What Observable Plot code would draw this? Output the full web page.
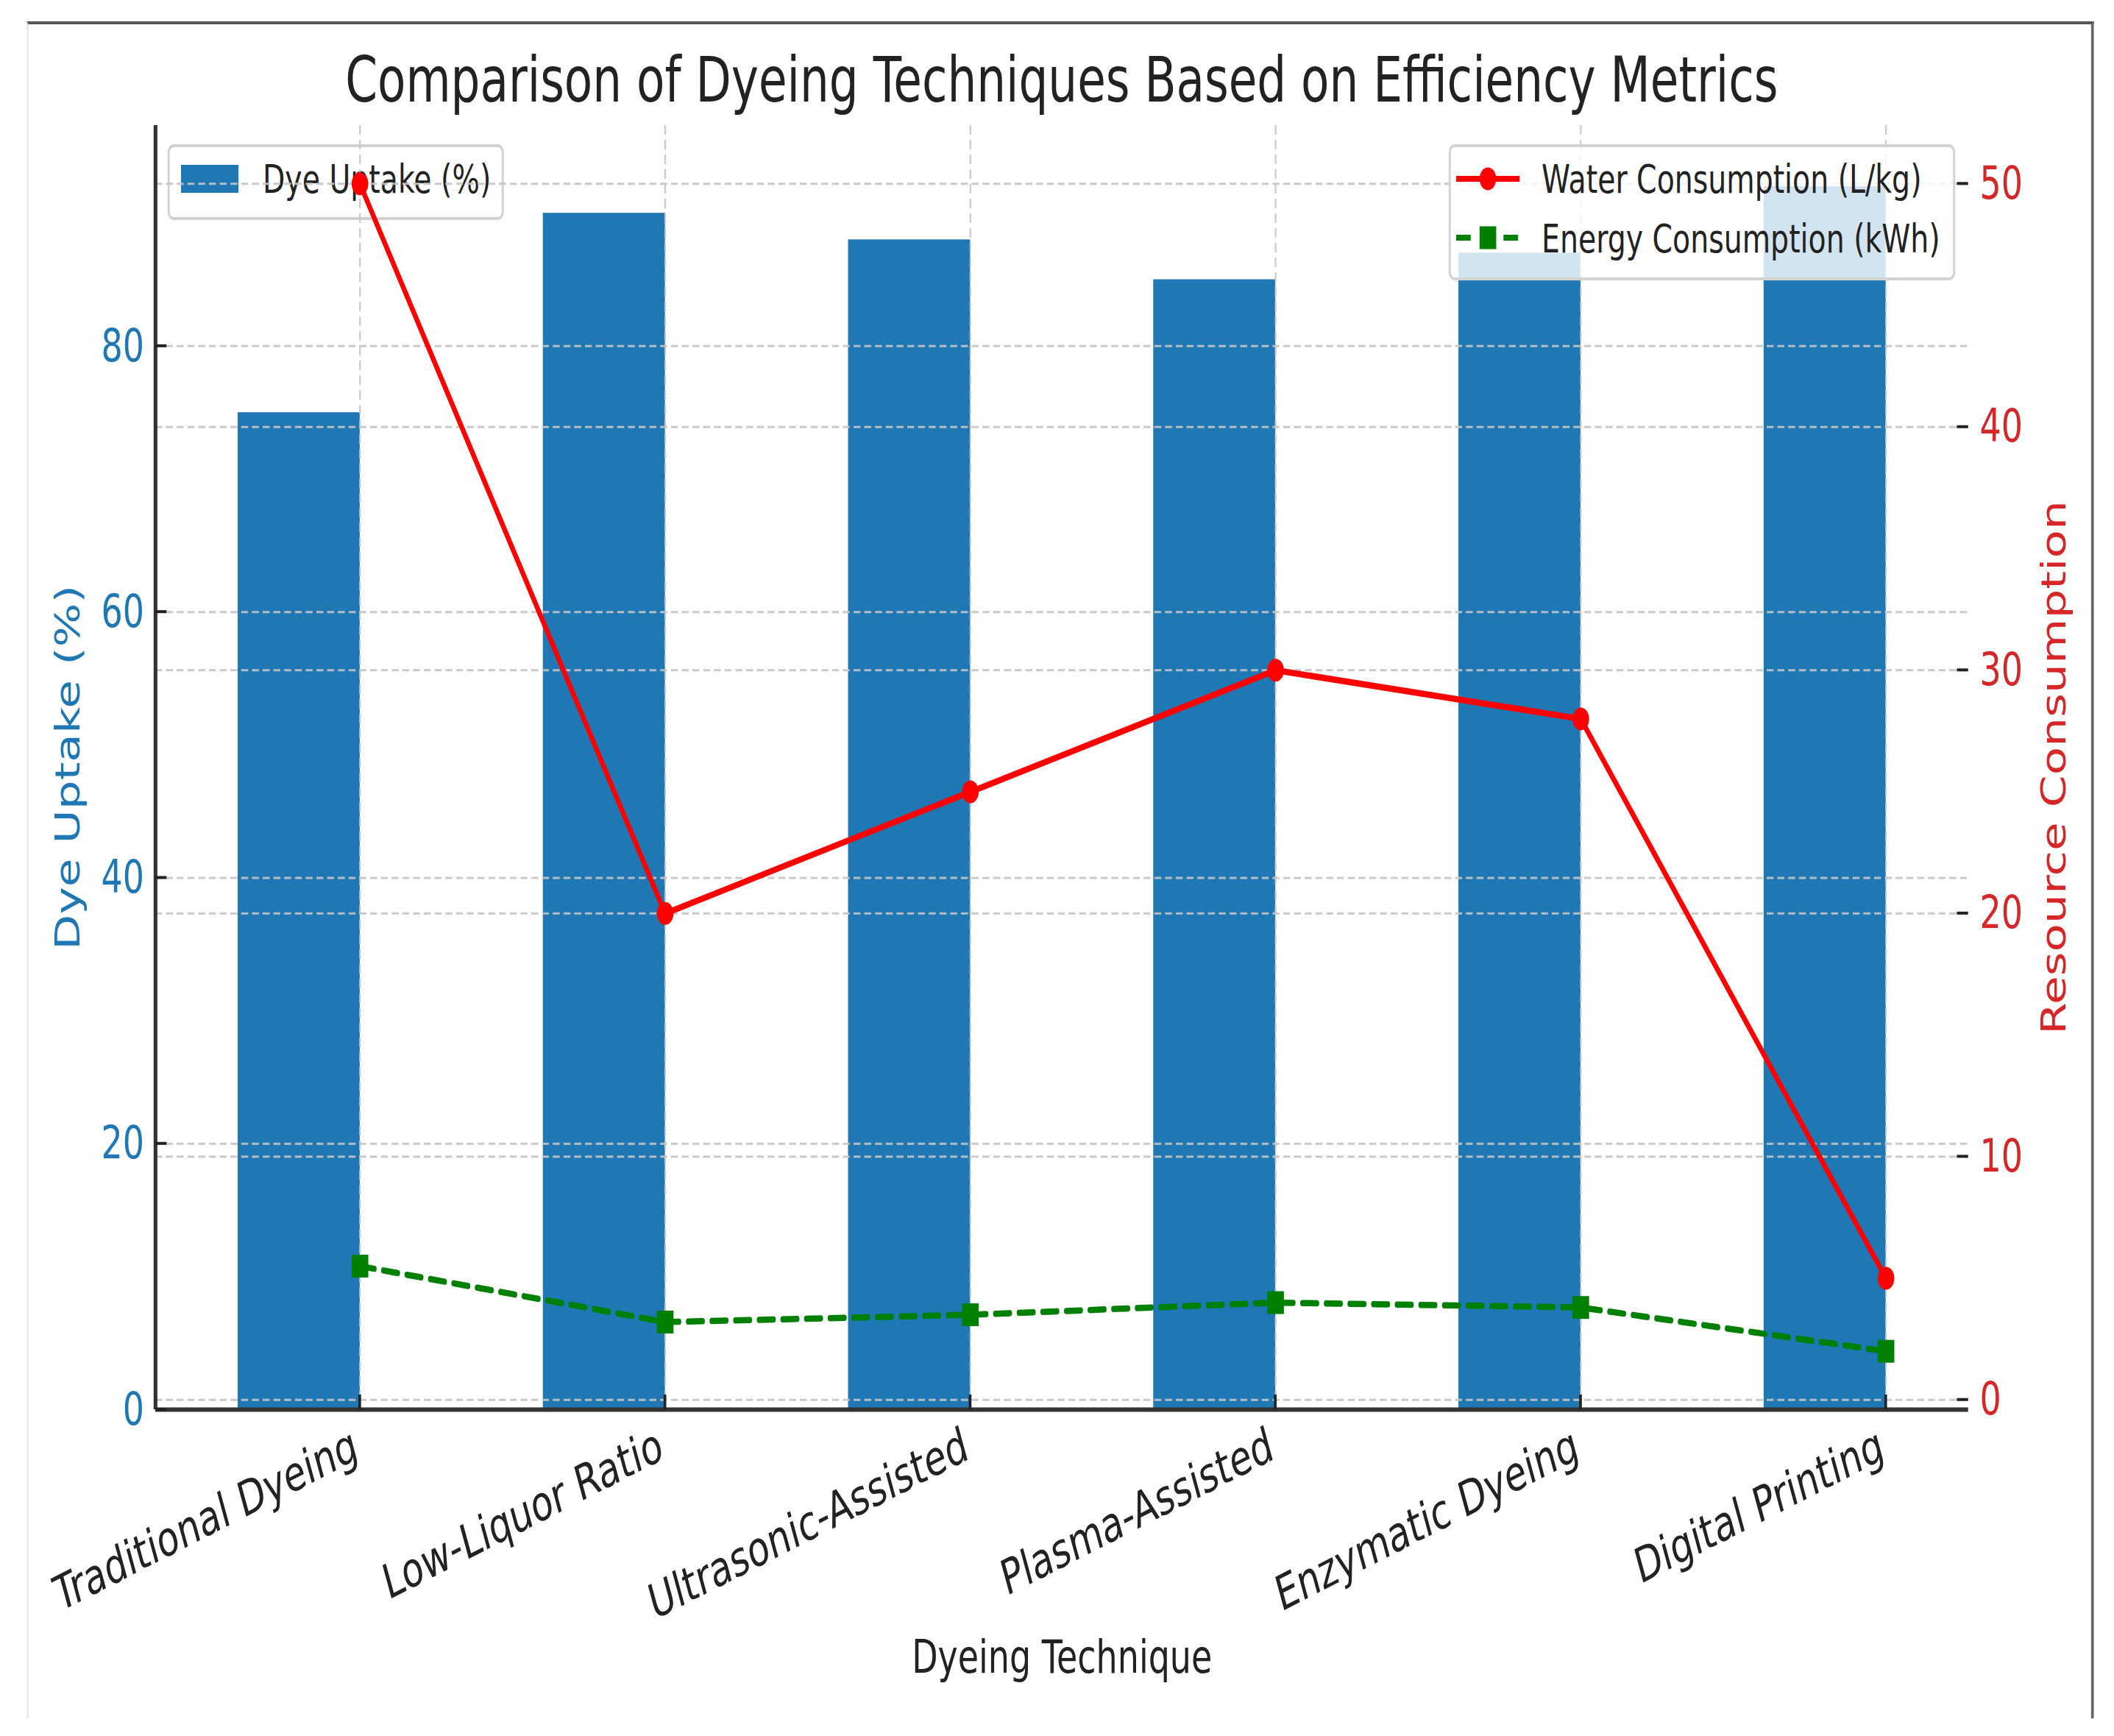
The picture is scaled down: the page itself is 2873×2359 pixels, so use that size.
<!DOCTYPE html>
<html><head><meta charset="utf-8">
<script src="https://cdn.jsdelivr.net/npm/d3@7"></script>
<script src="https://cdn.jsdelivr.net/npm/@observablehq/plot@0.6"></script>
<style>
html,body{margin:0;padding:0;background:#fff;overflow:hidden;}
#fig{position:relative;width:3936px;height:2359px;transform:scaleX(0.73);transform-origin:0 0;font-family:"DejaVu Sans",sans-serif;}
#frame{position:absolute;left:50px;top:29px;width:3848px;height:2306px;box-sizing:border-box;border-top:4px solid #555;border-right:5px solid #666;border-left:3px solid #e4e4e4;}
#title{position:absolute;left:289px;top:0;width:3375px;text-align:center;font-size:86px;line-height:86px;padding-top:65px;color:#222;white-space:nowrap;}
#chart{position:absolute;left:0;top:165px;width:3936px;}
</style></head>
<body><div id="fig"><div id="frame"></div><div id="title"></div><div id="chart"></div></div>
<script>
// ---- data ----
const techniques = ["Traditional Dyeing", "Low-Liquor Ratio", "Ultrasonic-Assisted", "Plasma-Assisted", "Enzymatic Dyeing", "Digital Printing"];
const dyeUptake = [75, 90, 88, 85, 87, 92];
const waterConsumption = [50, 20, 25, 30, 28, 5];
const energyConsumption = [5.5, 3.2, 3.5, 4.0, 3.8, 2.0];
const leftTicks = [0, 20, 40, 60, 80];
const rightTicks = [0, 10, 20, 30, 40, 50];
const titleText = "Comparison of Dyeing Techniques Based on Efficiency Metrics";
const xLabel = "Dyeing Technique";
const yLeftLabel = "Dye Uptake (%)";
const yRightLabel = "Resource Consumption";
const seriesNames = ["Dye Uptake (%)", "Water Consumption (L/kg)", "Energy Consumption (kWh)"];

// ---- colours ----
const BLUE = "#1f77b4", TRED = "#d62728", RED = "#ff0000", GREEN = "#008000", INK = "#222";
const GRID = {stroke: "#c4c4c4", strokeOpacity: 0.9, strokeWidth: 3, strokeDasharray: "13,7"};

document.getElementById("title").textContent = titleText;

// ---- derived (matplotlib-like autoscaling) ----
const n = techniques.length;
const barW = 0.4;
const xSpan = (n - 1) + barW;
const xDomain = [-barW - 0.05 * xSpan, (n - 1) + 0.05 * xSpan];
const yLeftMax = d3.max(dyeUptake) * 1.05;
const allRes = waterConsumption.concat(energyConsumption);
const rMin = d3.min(allRes), rMax = d3.max(allRes), rR = rMax - rMin;
const rLo = rMin - 0.05 * rR, rHi = rMax + 0.05 * rR;
const toL = v => (v - rLo) / (rHi - rLo) * yLeftMax;
const fromL = v => v / yLeftMax * (rHi - rLo) + rLo;

const rows = techniques.map((t, i) => ({i, t, dye: dyeUptake[i], water: waterConsumption[i], energy: energyConsumption[i]}));

const W = 3936, H = 2194;

function legendDye(index, scales, values, dim) {
  const g = d3.create("svg:g").attr("text-anchor", "start");
  const x0 = dim.marginLeft + 25, y0 = dim.marginTop + 28;
  g.append("rect").attr("x", x0).attr("y", y0).attr("width", 622).attr("height", 99).attr("rx", 9)
    .attr("fill", "white").attr("fill-opacity", 0.8).attr("stroke", "#d2d2d2").attr("stroke-width", 4);
  g.append("rect").attr("x", x0 + 23).attr("y", y0 + 26).attr("width", 107).attr("height", 38).attr("fill", BLUE);
  g.append("text").attr("x", x0 + 175).attr("y", y0 + 64).attr("font-size", 54).attr("fill", INK).attr("text-anchor", "start").text(seriesNames[0]);
  return g.node();
}

function legendRes(index, scales, values, dim) {
  const g = d3.create("svg:g").attr("text-anchor", "start");
  const R = dim.width - dim.marginRight;
  const w = 939, x0 = R - 26 - w, y0 = dim.marginTop + 28;
  g.append("rect").attr("x", x0).attr("y", y0).attr("width", w).attr("height", 181).attr("rx", 9)
    .attr("fill", "white").attr("fill-opacity", 0.8).attr("stroke", "#d2d2d2").attr("stroke-width", 4);
  const hx1 = x0 + 12, hx2 = x0 + 130, hc = x0 + 71;
  // water
  const yw = y0 + 45;
  g.append("line").attr("x1", hx1).attr("x2", hx2).attr("y1", yw).attr("y2", yw).attr("stroke", RED).attr("stroke-width", 8);
  g.append("circle").attr("cx", hc).attr("cy", yw).attr("r", 15.5).attr("fill", RED);
  g.append("text").attr("x", x0 + 171).attr("y", y0 + 64).attr("font-size", 54).attr("fill", INK).attr("text-anchor", "start").text(seriesNames[1]);
  // energy
  const ye = y0 + 125;
  g.append("line").attr("x1", hx1).attr("x2", hx2).attr("y1", ye).attr("y2", ye).attr("stroke", GREEN).attr("stroke-width", 8).attr("stroke-dasharray", "27,17");
  g.append("rect").attr("x", hc - 15.5).attr("y", ye - 15.5).attr("width", 31).attr("height", 31).attr("fill", GREEN);
  g.append("text").attr("x", x0 + 171).attr("y", y0 + 145).attr("font-size", 54).attr("fill", INK).attr("text-anchor", "start").text(seriesNames[2]);
  return g.node();
}

function tickMarks(index, {x, y}, values, dim) {
  const g = d3.create("svg:g").attr("stroke", INK).attr("stroke-width", 4);
  const L = dim.marginLeft, R = dim.width - dim.marginRight, B = dim.height - dim.marginBottom;
  for (const t of leftTicks) g.append("line").attr("x1", L).attr("x2", L + 21).attr("y1", y(t)).attr("y2", y(t));
  for (const t of rightTicks) g.append("line").attr("x1", R - 21).attr("x2", R).attr("y1", y(toL(t))).attr("y2", y(toL(t)));
  for (const r of rows) g.append("line").attr("x1", x(r.i)).attr("x2", x(r.i)).attr("y1", B).attr("y2", B - 20).attr("stroke-width", 5);
  return g.node();
}

const chart = Plot.plot({
  width: W, height: H,
  marginLeft: 289, marginRight: 272, marginTop: 5, marginBottom: 444,
  x: {type: "linear", domain: xDomain, axis: null},
  y: {domain: [0, yLeftMax], axis: null},
  style: {background: "transparent", fontFamily: "DejaVu Sans", overflow: "visible", maxWidth: "none"},
  marks: [
    Plot.rectY(rows, {x1: d => d.i - barW, x2: d => d.i, y1: 0, y2: d => d.dye, fill: BLUE}),
    Plot.gridY(leftTicks, GRID),
    legendDye,
    Plot.gridY(rightTicks.map(toL), GRID),
    Plot.gridX(rows.map(r => r.i), GRID),
    Plot.line(rows, {x: "i", y: d => toL(d.water), stroke: RED, strokeWidth: 8.5}),
    Plot.dot(rows, {x: "i", y: d => toL(d.water), r: 15.5, fill: RED}),
    Plot.line(rows, {x: "i", y: d => toL(d.energy), stroke: GREEN, strokeWidth: 8.5, strokeDasharray: "27,17"}),
    Plot.dot(rows, {x: "i", y: d => toL(d.energy), symbol: "square", r: 17.5, fill: GREEN}),
    Plot.ruleY([0], {stroke: "#333", strokeWidth: 6}),
    Plot.ruleX([xDomain[0]], {stroke: "#333", strokeWidth: 7}),
    tickMarks,
    Plot.axisY(leftTicks, {anchor: "left", tickSize: 0, tickPadding: 21, fontSize: 63, fill: BLUE, label: null}),
    Plot.axisY(rightTicks.map(toL), {anchor: "right", tickSize: 0, tickPadding: 21, fontSize: 63, fill: TRED, label: null,
      tickFormat: v => String(Math.round(fromL(v)))}),
    Plot.text(rows, {x: "i", text: "t", frameAnchor: "bottom", dy: 66, rotate: -20.5, textAnchor: "end", lineAnchor: "bottom", fontSize: 66, fill: INK}),
    Plot.text([yLeftLabel], {text: d => d, frameAnchor: "left", dx: -142, rotate: -90, textAnchor: "middle", lineAnchor: "bottom", fontSize: 63, fill: BLUE}),
    Plot.text([yRightLabel], {text: d => d, frameAnchor: "right", dx: 181, rotate: -90, textAnchor: "middle", lineAnchor: "bottom", fontSize: 63, fill: TRED}),
    Plot.text([xLabel], {text: d => d, frameAnchor: "bottom", dy: 357, textAnchor: "middle", lineAnchor: "bottom", fontSize: 63, fill: INK}),
    legendRes
  ]
});
document.getElementById("chart").appendChild(chart);
</script>
</body></html>
